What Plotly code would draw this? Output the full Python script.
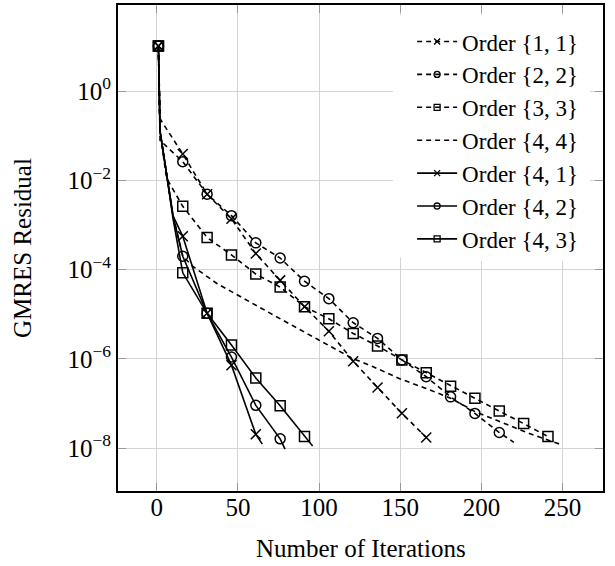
import plotly.graph_objects as go

FONT = "Liberation Serif"

# ---------------- data ----------------
labels = ["Order {1, 1}", "Order {2, 2}", "Order {3, 3}", "Order {4, 4}",
          "Order {4, 1}", "Order {4, 2}", "Order {4, 3}"]

it_11 = [1, 2, 16, 31, 46, 61, 76, 91, 106, 121, 136, 151, 166]
res_11 = [10.3, 0.24, 3.9e-2, 4.9e-3, 1.38e-3, 2.29e-4, 5.75e-5, 1.48e-5,
          4.17e-6, 8.9e-7, 2.29e-7, 6.03e-8, 1.74e-8]

it_22 = [1, 2, 16, 31, 46, 61, 76, 91, 106, 121, 136, 151, 166, 181, 196, 211, 220]
res_22 = [10.3, 7.9e-2, 2.63e-2, 4.9e-3, 1.62e-3, 3.98e-4, 1.82e-4, 5.5e-5,
          2.24e-5, 6.46e-6, 2.88e-6, 9.5e-7, 3.98e-7, 1.41e-7, 6.0e-8, 2.24e-8, 1.35e-8]

it_33 = [1, 2, 6, 16, 31, 46, 61, 76, 91, 106, 121, 136, 151, 166, 181, 196, 211, 226, 241]
res_33 = [10.3, 0.126, 1.12e-2, 2.63e-3, 5.25e-4, 2.14e-4, 7.94e-5, 4.07e-5,
          1.48e-5, 7.94e-6, 3.72e-6, 1.95e-6, 9.5e-7, 4.9e-7, 2.45e-7, 1.32e-7,
          6.76e-8, 3.55e-8, 1.82e-8]

it_44 = [1, 2, 6, 10, 16, 22, 37, 55, 72, 99, 120, 133, 150, 165, 181, 196, 211, 222, 230, 250]
res_44 = [10.3, 0.126, 1.41e-2, 1.6e-3, 2.0e-4, 1.2e-4, 4.9e-5, 2.09e-5, 9.55e-6,
          2.75e-6, 1.05e-6, 6.76e-7, 3.55e-7, 2.24e-7, 1.32e-7, 6.6e-8, 3.98e-8,
          2.82e-8, 2.09e-8, 1.17e-8]

it_41 = [1, 2, 6, 10, 16, 31, 46, 61, 65]
res_41 = [10.3, 0.126, 1.41e-2, 1.6e-3, 5.62e-4, 1.05e-5, 7.24e-7, 2.04e-8, 1.23e-8]

it_42 = [1, 2, 6, 10, 16, 31, 46, 61, 76, 79]
res_42 = [10.3, 0.126, 1.41e-2, 1.6e-3, 2.0e-4, 1.05e-5, 1.1e-6, 9.1e-8, 1.62e-8, 9.55e-9]

it_43 = [1, 2, 6, 10, 16, 31, 46, 61, 76, 91, 96]
res_43 = [10.3, 0.126, 1.41e-2, 1.4e-3, 8.5e-5, 1.05e-5, 2.04e-6, 3.72e-7,
          8.9e-8, 1.82e-8, 1.12e-8]

x_ticks = [0, 50, 100, 150, 200, 250]
y_ticks = [1e0, 1e-2, 1e-4, 1e-6, 1e-8]
y_ticktext = ["10<sup>0</sup>", "10<sup>\u22122</sup>", "10<sup>\u22124</sup>",
              "10<sup>\u22126</sup>", "10<sup>\u22128</sup>"]

x_title = "Number of Iterations"
y_title = "GMRES Residual"

MARK_EVERY = 15  # a mark every 15 iterations, starting at iteration 1

series = [
    (it_11, res_11, "x-thin-open", "dashed"),
    (it_22, res_22, "circle-open", "dashed"),
    (it_33, res_33, "square-open", "dashed"),
    (it_44, res_44, None, "dashed"),
    (it_41, res_41, "x-thin-open", "solid"),
    (it_42, res_42, "circle-open", "solid"),
    (it_43, res_43, "square-open", "solid"),
]

DASH = {"dashed": "5px,4px", "solid": "solid"}
LW = 1.6

fig = go.Figure()

for (xs, ys, sym, style), name in zip(series, labels):
    fig.add_trace(go.Scatter(
        x=xs, y=ys, mode="lines", showlegend=False, hoverinfo="skip",
        line=dict(color="black", width=LW, dash=DASH[style])))
    if sym:
        mx = [x for x in xs if (x - 1) % MARK_EVERY == 0]
        my = [y for x, y in zip(xs, ys) if (x - 1) % MARK_EVERY == 0]
        fig.add_trace(go.Scatter(
            x=mx, y=my, mode="markers", showlegend=False, hoverinfo="skip",
            marker=dict(symbol=sym, size=10, color="black",
                        line=dict(color="black", width=1.5))))

# legend-only entries
for (xs, ys, sym, style), name in zip(series, labels):
    fig.add_trace(go.Scatter(
        x=[None], y=[None], name=name,
        mode="lines+markers" if sym else "lines",
        line=dict(color="black", width=LW, dash=DASH[style]),
        marker=dict(symbol=sym if sym else "circle", size=6, color="black",
                    line=dict(color="black", width=1.3))))

axis_common = dict(
    showgrid=True, gridcolor="#d4d4d4", gridwidth=1,
    showline=True, linecolor="black", linewidth=2, mirror="allticks",
    ticks="inside", ticklen=8, tickcolor="#9a9a9a", tickwidth=1,
    zeroline=False, automargin=False,
    tickfont=dict(family=FONT, size=25, color="black"),
)

fig.update_xaxes(range=[-23.9, 274.9], tickvals=x_ticks,
                 ticklabelstandoff=-7, **axis_common)

fig.update_yaxes(type="log", range=[-8.96, 1.93], tickvals=y_ticks,
                 ticktext=y_ticktext, **axis_common)

fig.add_annotation(text=x_title, xref="paper", yref="paper",
                   x=0.5, y=-0.118, xanchor="center", yanchor="middle",
                   showarrow=False,
                   font=dict(family=FONT, size=25, color="black"))
fig.add_annotation(text=y_title, xref="paper", yref="paper",
                   x=-0.198, y=0.5, xanchor="center", yanchor="middle",
                   textangle=-90, showarrow=False,
                   font=dict(family=FONT, size=25, color="black"))

# white legend box (the legend sits in an opaque box over the grid)
fig.add_shape(type="rect", xref="paper", yref="paper",
              x0=0.567, x1=0.973, y0=0.48, y1=0.979,
              fillcolor="white", line=dict(width=0), layer="above")

fig.update_layout(
    width=615, height=566,
    margin=dict(l=118, r=12, t=5, b=75),
    paper_bgcolor="white", plot_bgcolor="white",
    font=dict(family=FONT, size=23, color="black"),
    legend=dict(x=0.959, xanchor="right", y=0.969, yanchor="top",
                bgcolor="white", borderwidth=0, itemwidth=40,
                font=dict(family=FONT, size=23, color="black"),
                tracegroupgap=0),
)

fig.write_html("out.html",
               config={"displayModeBar": False},
               post_script="document.body.style.margin='0';"
                           "document.body.style.padding='0';")
